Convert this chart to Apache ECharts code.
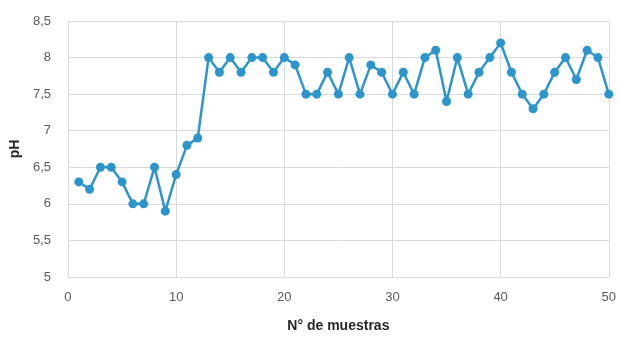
<!DOCTYPE html>
<html>
<head>
<meta charset="utf-8">
<script src="https://cdn.jsdelivr.net/npm/echarts@6/dist/echarts.min.js"></script>
<style>
  html, body { margin: 0; padding: 0; background: #ffffff; }
  #chart { width: 619px; height: 338px; }
</style>
</head>
<body>
<div id="chart"></div>
<script>
// Sample numbers (1..50) and measured pH for each sample
const muestras = [1,2,3,4,5,6,7,8,9,10,11,12,13,14,15,16,17,18,19,20,21,22,23,24,25,26,27,28,29,30,31,32,33,34,35,36,37,38,39,40,41,42,43,44,45,46,47,48,49,50];
const phValues = [6.3,6.2,6.5,6.5,6.3,6.0,6.0,6.5,5.9,6.4,6.8,6.9,8.0,7.8,8.0,7.8,8.0,8.0,7.8,8.0,7.9,7.5,7.5,7.8,7.5,8.0,7.5,7.9,7.8,7.5,7.8,7.5,8.0,8.1,7.4,8.0,7.5,7.8,8.0,8.2,7.8,7.5,7.3,7.5,7.8,8.0,7.7,8.1,8.0,7.5];

const xTitle = 'N° de muestras';
const yTitle = 'pH';

const gridColor = '#d9d9d9';
const labelColor = '#595959';
const lineColor = '#2b95cc';
const fontFam = '"Liberation Sans", Arial, sans-serif';

const chart = echarts.init(document.getElementById('chart'), null, { renderer: 'canvas' });

chart.setOption({
  animation: false,
  backgroundColor: '#ffffff',
  grid: { left: 67, right: 9, top: 21, bottom: 57, containLabel: false },
  xAxis: {
    type: 'value',
    min: 0, max: 50, interval: 10,
    name: xTitle,
    nameLocation: 'middle',
    nameGap: 42,
    nameTextStyle: { color: '#262626', fontSize: 14, fontWeight: 'bold', fontFamily: fontFam },
    axisLine: { show: true, lineStyle: { color: gridColor, width: 1 } },
    axisTick: { show: false },
    axisLabel: { color: labelColor, fontSize: 13, fontFamily: fontFam, margin: 14 },
    splitLine: { show: true, lineStyle: { color: gridColor, width: 1 } }
  },
  yAxis: {
    type: 'value',
    min: 5, max: 8.5, interval: 0.5,
    name: yTitle,
    nameLocation: 'middle',
    nameGap: 42,
    nameRotate: 90,
    nameTextStyle: { color: '#262626', fontSize: 14, fontWeight: 'bold', fontFamily: fontFam },
    axisLine: { show: true, lineStyle: { color: gridColor, width: 1 } },
    axisTick: { show: false },
    axisLabel: {
      color: labelColor, fontSize: 13, fontFamily: fontFam, margin: 17,
      formatter: v => String(v).replace('.', ',')
    },
    splitLine: { show: true, lineStyle: { color: gridColor, width: 1 } }
  },
  series: [{
    type: 'line',
    data: muestras.map((m, i) => [m, phValues[i]]),
    symbol: 'circle',
    symbolSize: 9,
    lineStyle: { color: lineColor, width: 2.5 },
    itemStyle: { color: lineColor },
    z: 3
  }]
});
</script>
</body>
</html>
